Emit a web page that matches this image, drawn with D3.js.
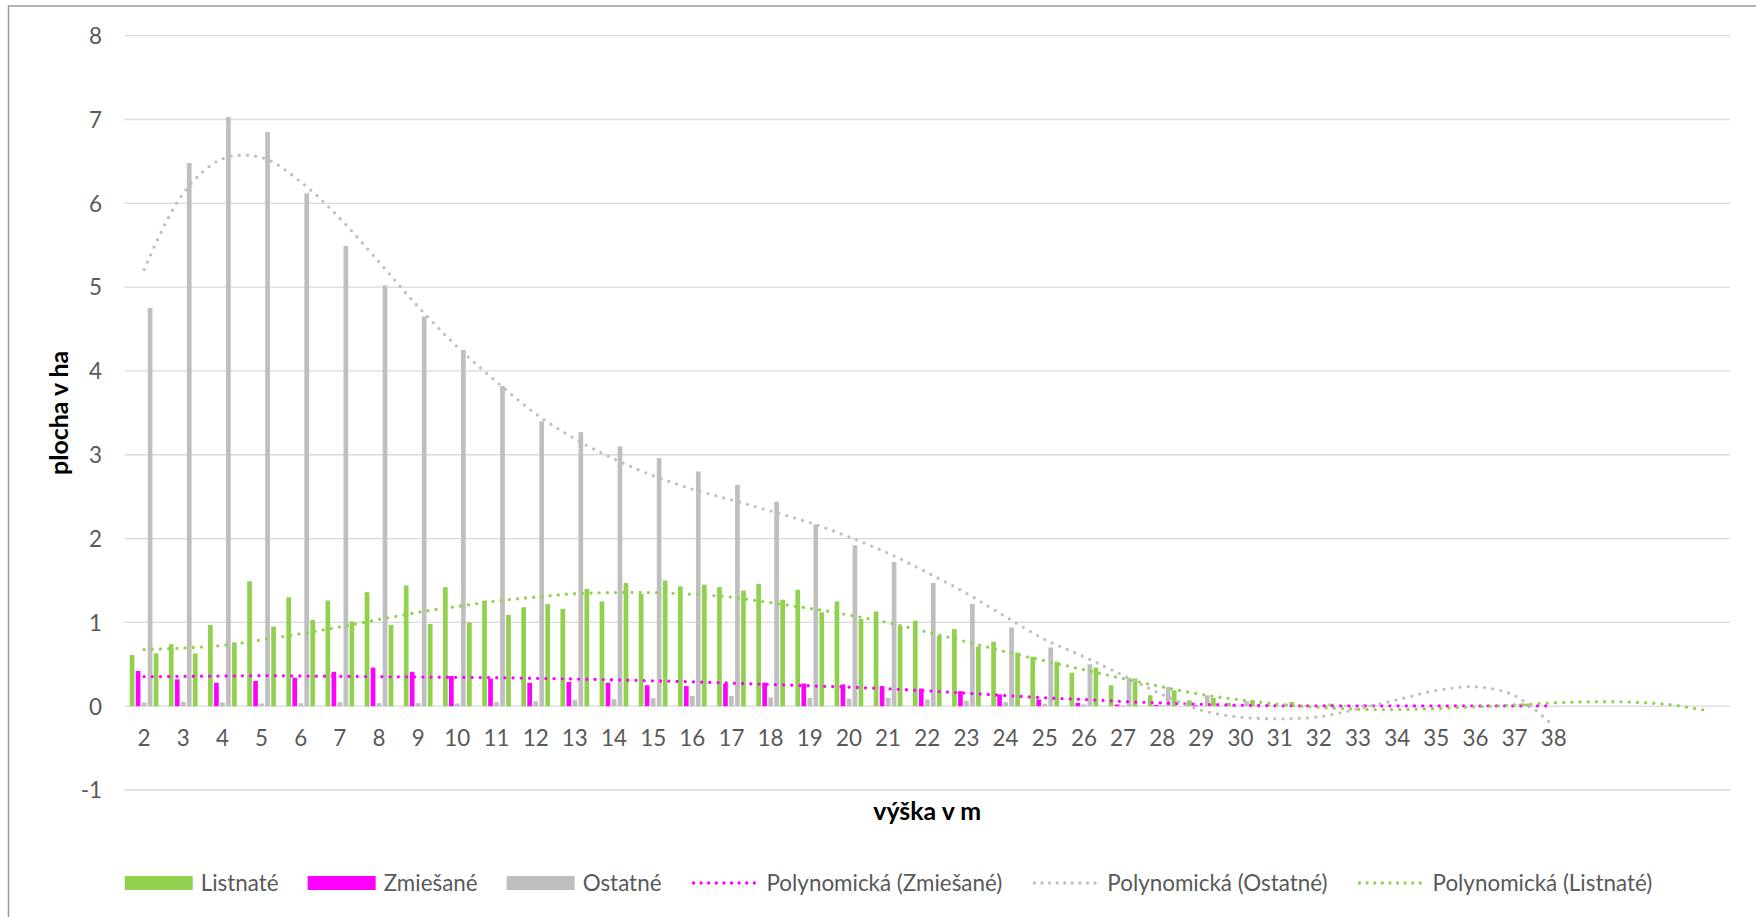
<!DOCTYPE html>
<html><head><meta charset="utf-8">
<script src="https://cdn.jsdelivr.net/npm/d3@7"></script>
<style>body{margin:0;background:#fff}svg{display:block}</style>
</head><body><svg id="c" width="1756" height="917"></svg>
<script>
// ---------- data ----------
const categories = [2,3,4,5,6,7,8,9,10,11,12,13,14,15,16,17,18,19,20,21,22,23,24,25,26,27,28,29,30,31,32,33,34,35,36,37,38,39,40,41,42];
const tickLabels = ["2","3","4","5","6","7","8","9","10","11","12","13","14","15","16","17","18","19","20","21","22","23","24","25","26","27","28","29","30","31","32","33","34","35","36","37","38","","","",""];
const yTicks = [-1,0,1,2,3,4,5,6,7,8];
const yTickLabels = ["-1","0","1","2","3","4","5","6","7","8"];

const listnate  = [0.61,0.74,0.97,1.49,1.30,1.26,1.36,1.44,1.42,1.26,1.18,1.16, 1.25,1.34,1.43,1.42,1.46,1.39,1.25,1.13,1.02,0.92,0.77,0.59, 0.40,0.25,0.13,0.07,0.04,0.02,0.01,0.01, 0,0,0,0,0,0,0,0,0];
const zmiesane  = [0.42,0.32,0.28,0.30,0.34,0.41,0.46,0.41,0.36,0.33,0.28,0.29, 0.28,0.25,0.24,0.27,0.28,0.27,0.26,0.24,0.21,0.18,0.14,0.08, 0.04,0.02,0.015,0.01,0.005,0,0,0, 0,0,0,0,0,0,0,0,0];
const ostatneB  = [0.044,0.052,0.044,0.032,0.036,0.048,0.036,0.036,0.032,0.048,0.06,0.072, 0.084,0.096,0.124,0.124,0.104,0.10,0.088,0.10,0.08,0.064,0.048,0.028, 0.02,0.01,0.01,0,0,0,0,0, 0,0,0,0,0,0,0,0,0];
const ostatne   = [4.75,6.48,7.03,6.85,6.12,5.49,5.02,4.65,4.25,3.82,3.40,3.27, 3.10,2.96,2.80,2.64,2.44,2.17,1.92,1.72,1.47,1.22,0.94,0.70, 0.50,0.34,0.23,0.13,0.06,0.03,0.01,0.02, 0,0,0,0.03,0,0,0,0,0];
const listnateB = [0.63,0.63,0.76,0.95,1.03,1.01,0.97,0.98,1.00,1.09,1.22,1.40, 1.47,1.50,1.45,1.38,1.27,1.12,1.04,0.96,0.84,0.71,0.64,0.53, 0.46,0.33,0.19,0.10,0.07,0.05,0.03,0.01, 0,0,0,0.03,0,0,0,0,0];

// polynomial trendlines (one value per category)
const trendOstatne  = [5.21,6.12,6.53,6.547,6.257,5.82,5.30,4.765,4.288,3.87,3.49,3.19, 2.95,2.75,2.59,2.46,2.33,2.19,2.02,1.825,1.594,1.347,1.068,0.797, 0.59,0.367,0.14,-0.048,-0.131,-0.151,-0.127,-0.032,0.076,0.187,0.231,0.127,-0.24];
const trendZmiesane = [0.352,0.356,0.36,0.364,0.36,0.356,0.352,0.348,0.344,0.34,0.332,0.324, 0.315,0.303,0.291,0.275,0.259,0.243,0.227,0.207,0.183,0.155,0.127,0.10, 0.08,0.056,0.038,0.022,0.012,0.005,0.003,0.003,0.003,0.003,0.003,0.003,0.003];
const trendListnate = [0.676,0.694,0.725,0.79,0.865,0.945,1.035,1.12,1.19,1.255,1.302,1.342, 1.355,1.355,1.335,1.30,1.235,1.167,1.088,0.996,0.884,0.769,0.649,0.542, 0.435,0.33,0.23,0.14,0.075,0.022,-0.014,-0.036, -0.04,-0.028,-0.008,0.014,0.04,0.052,0.048,0.016,-0.06];

const legendNames = ["Listnaté","Zmiešané","Ostatné","Polynomická (Zmiešané)","Polynomická (Ostatné)","Polynomická (Listnaté)"];
const xTitle = "výška v m";
const yTitle = "plocha v ha";

// ---------- styles ----------
const GREEN = "#92D050", MAGENTA = "#FF00FF", GRAY = "#BFBFBF";
const FONT = "Lato, 'Open Sans', sans-serif";

const series = [
  {key:"listnate",  values:listnate,  color:GREEN},
  {key:"zmiesane",  values:zmiesane,  color:MAGENTA},
  {key:"ostatneB",  values:ostatneB,  color:GRAY},
  {key:"ostatne",   values:ostatne,   color:GRAY},
  {key:"listnateB", values:listnateB, color:GREEN}
];
const trends = [
  {values:trendZmiesane, color:MAGENTA},
  {values:trendOstatne,  color:GRAY},
  {values:trendListnate, color:GREEN}
];

const svg = d3.select("#c");
svg.append("rect").attr("width",1756).attr("height",917).attr("fill","#fff");
svg.append("path").attr("d","M8.5,917 V6 H1756").attr("fill","none")
   .attr("stroke","#9a9a9a").attr("stroke-width",1.5);

// font fitting helper
function fit(text, weight, target){
  const t = svg.append("text").attr("font-family",FONT).attr("font-weight",weight)
     .attr("font-size",100).text(text);
  const w = t.node().getComputedTextLength(); t.remove();
  return 100*target/w;
}
const fsLabel = fit("Polynomická (Zmiešané)", 400, 236);
const fsTitle = fit(xTitle, 700, 108);

const plot = {left:124.5, right:1730, top:35.7, bottom:790};
const x = d3.scaleBand().domain(categories).range([plot.left, plot.right]).padding(0);
const y = d3.scaleLinear().domain([-1,8]).range([plot.bottom, plot.top]);

// gridlines
svg.append("g").selectAll("line").data(yTicks).join("line")
  .attr("x1",plot.left).attr("x2",plot.right)
  .attr("y1",d=>y(d)).attr("y2",d=>y(d))
  .attr("stroke","#D9D9D9").attr("stroke-width",1.3);

// y axis labels
const gy = svg.append("g").attr("transform","translate(102,0)")
  .call(d3.axisLeft(y).tickValues(yTicks).tickSize(0).tickPadding(0).tickFormat((d,i)=>yTickLabels[i]));
gy.select(".domain").remove();
gy.selectAll("text").attr("font-family",FONT).attr("font-size",fsLabel).attr("fill","#595959").attr("dy","0.35em");

// x axis labels
const gx = svg.append("g").attr("transform","translate(0,738)")
  .call(d3.axisBottom(x).tickSize(0).tickPadding(0).tickFormat((d,i)=>tickLabels[i]));
gx.select(".domain").remove();
gx.selectAll("text").attr("font-family",FONT).attr("font-size",fsLabel).attr("fill","#595959").attr("dy","0.35em").attr("y",0);

// bars
const clusterFrac = 0.733;
const xi = d3.scaleBand().domain(series.map(s=>s.key))
  .range([0, x.bandwidth()*clusterFrac]).paddingInner(0.217).paddingOuter(0);
const off = x.bandwidth()*(1-clusterFrac)/2;
const bars = svg.append("g");
series.forEach(s=>{
  bars.append("g").selectAll("rect").data(s.values.map((v,i)=>({c:categories[i],v})))
    .join("rect")
    .attr("x",d=>x(d.c)+off+xi(s.key))
    .attr("width",xi.bandwidth())
    .attr("y",d=>y(Math.max(0,d.v)))
    .attr("height",d=>Math.abs(y(d.v)-y(0)))
    .attr("fill",s.color);
});

// trendlines
const line = d3.line()
  .x((d,i)=>x(categories[i])+x.bandwidth()/2)
  .y(d=>y(d))
  .curve(d3.curveCatmullRom.alpha(0.5));
trends.forEach(t=>{
  svg.append("path").attr("d",line(t.values)).attr("fill","none")
    .attr("stroke",t.color).attr("stroke-width",3.3)
    .attr("stroke-linecap","round").attr("stroke-dasharray","0 8.2");
});

// axis titles
svg.append("text").attr("x",(plot.left+plot.right)/2).attr("y",820)
  .attr("text-anchor","middle").attr("font-family",FONT).attr("font-weight",700)
  .attr("font-size",fsTitle).attr("fill","#000").text(xTitle);
svg.append("text").attr("transform",`translate(68,${(plot.top+plot.bottom)/2}) rotate(-90)`)
  .attr("text-anchor","middle").attr("font-family",FONT).attr("font-weight",700)
  .attr("font-size",fsTitle).attr("fill","#000").text(yTitle);

// legend
const legendItems = [
  {name:legendNames[0], type:"rect", color:GREEN},
  {name:legendNames[1], type:"rect", color:MAGENTA},
  {name:legendNames[2], type:"rect", color:GRAY},
  {name:legendNames[3], type:"line", color:MAGENTA},
  {name:legendNames[4], type:"line", color:GRAY},
  {name:legendNames[5], type:"line", color:GREEN}
];
const lg = svg.append("g");
const ly = 883, symW = 68, symGap = 8, itemGap = 29;
let cx = 0;
legendItems.forEach(it=>{
  const g = lg.append("g").attr("transform",`translate(${cx},0)`);
  if(it.type==="rect"){
    g.append("rect").attr("x",0).attr("y",ly-7).attr("width",symW).attr("height",14).attr("fill",it.color);
  } else {
    g.append("line").attr("x1",3).attr("x2",symW-2).attr("y1",ly).attr("y2",ly)
      .attr("stroke",it.color).attr("stroke-width",3.3).attr("stroke-linecap","round").attr("stroke-dasharray","0 7.6");
  }
  const t = g.append("text").attr("x",symW+symGap).attr("y",ly).attr("dy","0.35em")
    .attr("font-family",FONT).attr("font-size",fsLabel).attr("fill","#595959").text(it.name);
  cx += symW + symGap + t.node().getComputedTextLength() + itemGap;
});
const total = cx - itemGap;
lg.attr("transform",`translate(${888.5 - total/2},0)`);
</script>
</body></html>
